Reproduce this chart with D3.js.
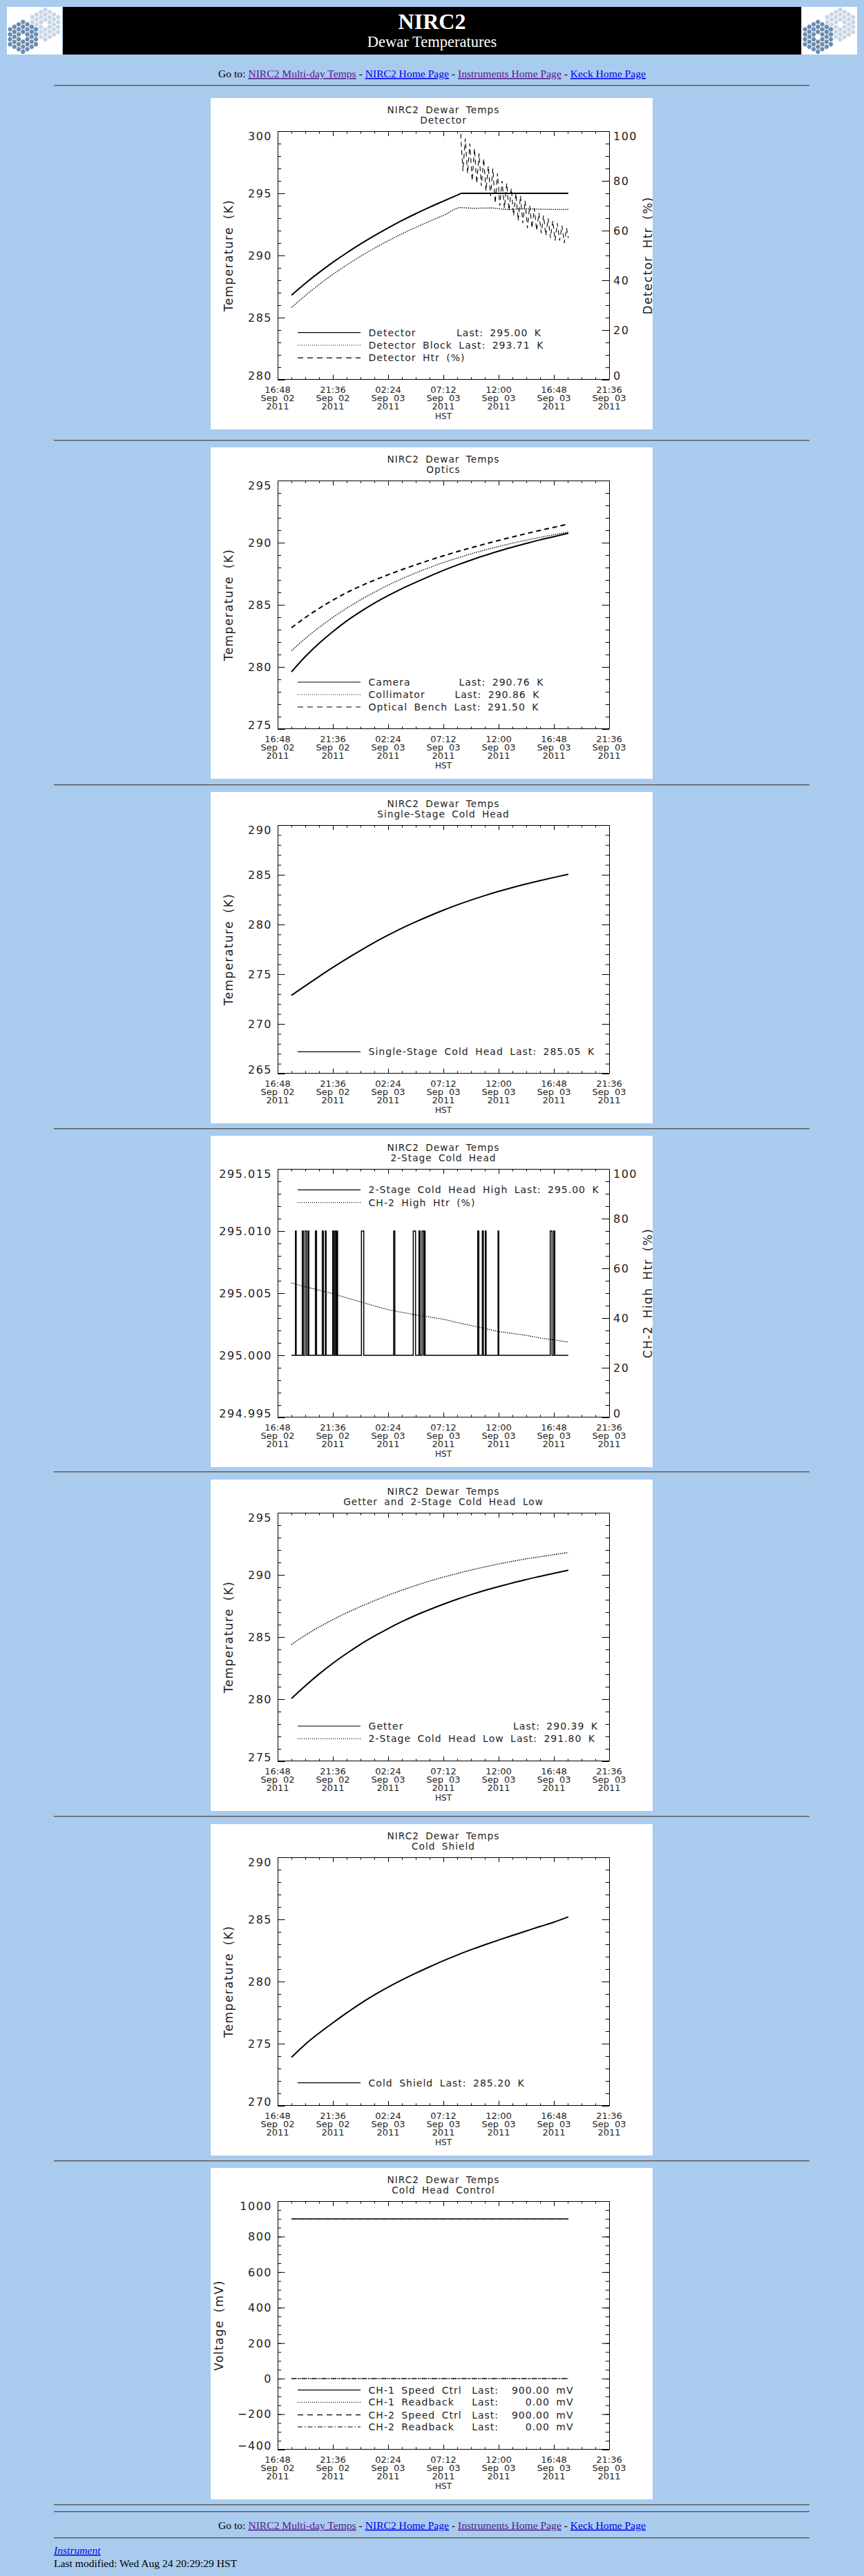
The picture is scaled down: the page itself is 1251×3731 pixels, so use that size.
<!DOCTYPE html>
<html>
<head>
<meta charset="utf-8">
<title>NIRC2 Dewar Temperatures</title>
<script src="https://cdn.jsdelivr.net/npm/d3@7"></script>
<style>
  html, body { margin: 0; padding: 0; background: #a9cbee; }
  svg { display: block; }
</style>
</head>
<body>
<div id="page"></div>
<script>
// ---- data (time = hours after 16:48 Sep 02 2011 HST) ----
var xTickHours = [0, 4.8, 9.6, 14.4, 19.2, 24.0, 28.8];
var xTickTime = ["16:48", "21:36", "02:24", "07:12", "12:00", "16:48", "21:36"];
var xTickDate = ["Sep 02", "Sep 02", "Sep 03", "Sep 03", "Sep 03", "Sep 03", "Sep 03"];
var xTickYear = ["2011", "2011", "2011", "2011", "2011", "2011", "2011"];

var hours = [1.2, 2.4, 3.6, 4.8, 6.0, 7.2, 8.4, 9.6, 10.8, 12.0, 13.2, 14.4, 15.6, 16.8, 18.0, 19.2, 20.4, 21.6, 22.8, 24.0, 25.25];

// Detector
var detHours = [1.2, 2.4, 3.6, 4.8, 6.0, 7.2, 8.4, 9.6, 10.8, 12.0, 13.2, 14.4, 15.6, 16.0, 20.0, 25.25];
var detK = [286.8, 287.75, 288.63, 289.45, 290.21, 290.92, 291.59, 292.22, 292.81, 293.36, 293.88, 294.37, 294.85, 295.0, 295.0, 295.0];
var blockHours = [1.2, 2.4, 3.6, 4.8, 6.0, 7.2, 8.4, 9.6, 10.8, 12.0, 13.2, 14.4, 15.9, 17.0, 18.5, 20.0, 21.5, 23.0, 24.5, 25.25];
var blockK = [285.8, 286.77, 287.66, 288.48, 289.23, 289.93, 290.58, 291.18, 291.74, 292.26, 292.75, 293.22, 293.85, 293.8, 293.82, 293.7, 293.75, 293.72, 293.7, 293.71];
var htrHours = [15.9, 16.1, 16.3, 16.5, 16.7, 16.9, 17.1, 17.3, 17.5, 17.7, 17.9, 18.1, 18.3, 18.5, 18.7, 18.9,
  19.1, 19.3, 19.5, 19.7, 19.9, 20.1, 20.3, 20.5, 20.7, 20.9, 21.1, 21.3, 21.5, 21.7, 21.9, 22.1,
  22.3, 22.5, 22.7, 22.9, 23.1, 23.3, 23.5, 23.7, 23.9, 24.1, 24.3, 24.5, 24.7, 24.9, 25.1, 25.25];
var htrPct = [99, 84, 97, 83, 95, 80, 93, 79, 91, 78, 89, 76, 86, 74, 85, 71,
  83, 70, 80, 69, 79, 68, 77, 66, 75, 64, 74, 63, 72, 61, 70, 61,
  69, 60, 67, 59, 66, 58, 65, 57, 64, 56, 63, 56, 62, 55, 61, 57];

// Optics
var cameraK = [279.6, 280.83, 281.9, 282.85, 283.7, 284.45, 285.13, 285.74, 286.3, 286.81, 287.3, 287.77, 288.2, 288.6, 288.97, 289.32, 289.64, 289.94, 290.23, 290.49, 290.76];
var collimatorK = [281.3, 282.29, 283.18, 283.99, 284.73, 285.4, 286.01, 286.58, 287.1, 287.57, 288.0, 288.4, 288.76, 289.1, 289.41, 289.69, 289.96, 290.2, 290.43, 290.64, 290.86];
var benchK = [283.15, 283.97, 284.71, 285.38, 285.98, 286.51, 286.98, 287.42, 287.83, 288.22, 288.59, 288.94, 289.28, 289.59, 289.89, 290.18, 290.46, 290.73, 290.99, 291.24, 291.5];

// Single-stage cold head
var singleStageK = [272.87, 273.83, 274.77, 275.68, 276.55, 277.39, 278.19, 278.93, 279.63, 280.27, 280.87, 281.44, 281.97, 282.46, 282.91, 283.33, 283.72, 284.08, 284.41, 284.73, 285.05];

// 2-stage cold head high: sits at 295.000 K, jumps to 295.010 K in these intervals
var ch2Range = [1.2, 25.25];
var ch2BaseK = 295.0;
var ch2SpikeK = 295.01;
var spikeStart = [1.55, 2.14, 2.38, 2.65, 3.28, 3.88, 4.15, 4.78, 4.98, 5.15, 7.28, 10.08, 11.78, 12.28, 12.54, 12.75, 17.38, 17.78, 18.05, 19.15, 23.68, 23.98];
var spikeEnd = [1.61, 2.24, 2.52, 2.71, 3.38, 3.98, 4.21, 4.88, 5.08, 5.21, 7.48, 10.18, 11.98, 12.38, 12.68, 12.81, 17.48, 17.88, 18.11, 19.21, 23.84, 24.08];
var ch2HtrPct = [54.1, 52.6, 51.2, 49.8, 48.1, 46.5, 44.9, 43.4, 42.3, 41.3, 40.4, 39.5, 38.2, 37.0, 35.8, 34.6, 33.8, 33.0, 32.0, 31.2, 30.3];

// Getter and 2-stage cold head low
var getterK = [280.05, 281.07, 282.02, 282.89, 283.68, 284.41, 285.07, 285.68, 286.24, 286.75, 287.21, 287.64, 288.04, 288.41, 288.75, 289.06, 289.35, 289.63, 289.88, 290.13, 290.38];
var stage2LowK = [284.4, 285.14, 285.8, 286.4, 286.95, 287.45, 287.92, 288.36, 288.77, 289.15, 289.5, 289.82, 290.11, 290.39, 290.64, 290.88, 291.09, 291.29, 291.46, 291.63, 291.8];

// Cold shield
var coldShieldK = [273.9, 274.95, 275.85, 276.68, 277.48, 278.23, 278.92, 279.55, 280.13, 280.67, 281.18, 281.67, 282.13, 282.56, 282.96, 283.34, 283.71, 284.07, 284.43, 284.78, 285.2];

// Cold head control
var ctrlHours = [1.2, 25.25];
var ch1SpeedMv = [900, 900];
var ch1ReadMv = [0, 0];
var ch2SpeedMv = [900, 900];
var ch2ReadMv = [0, 0];

// legend texts
var legDetector = ["Detector", "Detector Block Last: 293.71 K", "Detector Htr (%)"];
var legDetectorLast = ["Last: 295.00 K", "", ""];
var legOptics = ["Camera", "Collimator", "Optical Bench Last: 291.50 K"];
var legOpticsLast = ["Last: 290.76 K", "Last: 290.86 K", ""];
var legSingle = ["Single-Stage Cold Head Last: 285.05 K"];
var legTwoStage = ["2-Stage Cold Head High Last: 295.00 K", "CH-2 High Htr (%)"];
var legGetter = ["Getter", "2-Stage Cold Head Low Last: 291.80 K"];
var legGetterLast = ["Last: 290.39 K", ""];
var legShield = ["Cold Shield Last: 285.20 K"];
var legCtrl = ["CH-1 Speed Ctrl", "CH-1 Readback", "CH-2 Speed Ctrl", "CH-2 Readback"];
var legCtrlValue = ["900.00 mV", "0.00 mV", "900.00 mV", "0.00 mV"];

function pairs(xs, ys) {
  return xs.map(function (t, i) { return [t, ys[i]]; });
}

// step trace for the 2-stage high sensor
var ch2HighPts = [[ch2Range[0], ch2BaseK]];
for (var i = 0; i < spikeStart.length; i++) {
  ch2HighPts.push([spikeStart[i], ch2BaseK], [spikeStart[i], ch2SpikeK], [spikeEnd[i], ch2SpikeK], [spikeEnd[i], ch2BaseK]);
}
ch2HighPts.push([ch2Range[1], ch2BaseK]);

// ---- page layout ----
var W = 1251, H = 3731;
var panelTops = [142, 648, 1147, 1645, 2143, 2642, 3140];
var hrYs = [124, 638, 1137, 1635, 2132, 2631, 3130, 3628, 3638, 3676];
var dash = { solid: null, dotted: "1.5,1.5", dashed: "7,5", dashdot: "7,3,1.5,3" };
var legDash = { solid: null, dotted: "1,2", dashed: "8,6", dashdot: "7,3,1.5,3" };
var HFONT = "'DejaVu Sans', Verdana, sans-serif";
var SERIF = "'Liberation Serif', 'Times New Roman', serif";

var svg = d3.select("#page").append("svg").attr("width", W).attr("height", H);
svg.append("rect").attr("width", W).attr("height", H).attr("fill", "#a9cbee");

function hershey(sel, size, spacing) {
  sel.style("font-family", HFONT).style("font-size", size + "px")
    .style("letter-spacing", (spacing == null ? 1 : spacing) + "px")
    .style("word-spacing", "4px").attr("fill", "#1e1e1e");
}

// ---- banner ----
function logo(x0) {
  var g = svg.append("svg").attr("x", x0).attr("y", 10).attr("width", 80).attr("height", 69);
  g.append("rect").attr("width", 80).attr("height", 69).attr("fill", "#fff");
  var clusters = [{ cx: 55.5, cy: 25.5, fill: "#c8d6e6" }, { cx: 23.3, cy: 43.3, fill: "#6a8cb1" }];
  var hex = d3.range(6).map(function (k) {
    var a = Math.PI / 3 * k;
    return [3.5 * Math.cos(a), 3.5 * Math.sin(a)];
  });
  clusters.forEach(function (c) {
    var cells = [];
    for (var q = -3; q <= 3; q++) {
      for (var r = -3; r <= 3; r++) {
        var s = -q - r;
        var ring = Math.max(Math.abs(q), Math.abs(r), Math.abs(s));
        if (ring === 0 || ring > 3) continue;
        cells.push([c.cx + 6.235 * q, c.cy + 7.2 * (r + q / 2)]);
      }
    }
    g.selectAll(null).data(cells).join("path")
      .attr("d", function (d) { return "M" + hex.map(function (p) { return [d[0] + p[0], d[1] + p[1]]; }).join("L") + "Z"; })
      .attr("fill", c.fill);
  });
}
logo(10);
logo(1161);
svg.append("rect").attr("x", 91).attr("y", 10).attr("width", 1069).attr("height", 69).attr("fill", "#000");
svg.append("text").attr("x", 625.5).attr("y", 41.7).attr("text-anchor", "middle")
  .style("font-family", SERIF).style("font-size", "32px").style("font-weight", "bold")
  .attr("fill", "#fff").text("NIRC2");
svg.append("text").attr("x", 625.5).attr("y", 68.3).attr("text-anchor", "middle")
  .style("font-family", SERIF).style("font-size", "22.5px")
  .attr("fill", "#fff").text("Dewar Temperatures");

// ---- navigation lines and rules ----
var navParts = [
  { t: "Go to: ", c: "#000" },
  { t: "NIRC2 Multi-day Temps", c: "#551a8b", link: true },
  { t: " - ", c: "#000" },
  { t: "NIRC2 Home Page", c: "#0000ee", link: true },
  { t: " - ", c: "#000" },
  { t: "Instruments Home Page", c: "#551a8b", link: true },
  { t: " - ", c: "#000" },
  { t: "Keck Home Page", c: "#0000ee", link: true }
];
function navLine(yb) {
  var t = svg.append("text").attr("x", 625.5).attr("y", yb).attr("text-anchor", "middle")
    .style("font-family", SERIF).style("font-size", "15.6px").attr("xml:space", "preserve");
  navParts.forEach(function (p) {
    t.append("tspan").attr("fill", p.c)
      .style("text-decoration", p.link ? "underline" : "none").text(p.t);
  });
}
navLine(112);
navLine(3662.7);

hrYs.forEach(function (yy) {
  svg.append("rect").attr("x", 78).attr("y", yy - 1).attr("width", 1094).attr("height", 1).attr("fill", "#555");
  svg.append("rect").attr("x", 78).attr("y", yy).attr("width", 1094).attr("height", 1).attr("fill", "#8d9bab");
});

svg.append("text").attr("x", 78).attr("y", 3699).style("font-family", SERIF).style("font-size", "15.6px")
  .style("font-style", "italic").style("text-decoration", "underline").attr("fill", "#0000ee").text("Instrument");
svg.append("text").attr("x", 78).attr("y", 3718).style("font-family", SERIF).style("font-size", "15.6px")
  .attr("fill", "#000").text("Last modified: Wed Aug 24 20:29:29 HST");

// ---- plot panels ----
var PL = 97, PR = 577, PT = 48, PB = 408;
var x = d3.scaleLinear().domain([0, 28.8]).range([PL, PR]);

function tickRange(dom, step) {
  var n = Math.round((dom[1] - dom[0]) / step);
  return d3.range(n + 1).map(function (k) { return dom[0] + k * step; });
}

function addTicks(p, axis, tr) {
  p.append("g").attr("transform", tr).attr("color", "#000")
    .call(axis.tickFormat(""))
    .call(function (g) { g.select(".domain").remove(); g.selectAll("text").remove(); });
}

function drawPanel(cfg, top) {
  var p = svg.append("svg").attr("x", 305).attr("y", top).attr("width", 640).attr("height", 480);
  p.append("rect").attr("width", 640).attr("height", 480).attr("fill", "#fff");

  var y = d3.scaleLinear().domain(cfg.yDomain).range([PB, PT]);
  var y2 = cfg.y2Domain ? d3.scaleLinear().domain(cfg.y2Domain).range([PB, PT]) : null;

  // titles
  p.append("text").call(hershey, 13.7).attr("x", 337).attr("y", 22).attr("text-anchor", "middle").text("NIRC2 Dewar Temps");
  p.append("text").call(hershey, 13.7).attr("x", 337).attr("y", 37).attr("text-anchor", "middle").text(cfg.title);

  // tick marks on all four sides
  var xMinor = tickRange([0, 28.8], 1.2);
  addTicks(p, d3.axisBottom(x).tickValues(xMinor).tickSize(-3.6), "translate(0," + PB + ")");
  addTicks(p, d3.axisBottom(x).tickValues(xTickHours).tickSize(-7.2), "translate(0," + PB + ")");
  addTicks(p, d3.axisTop(x).tickValues(xMinor).tickSize(-3.6), "translate(0," + PT + ")");
  addTicks(p, d3.axisTop(x).tickValues(xTickHours).tickSize(-7.2), "translate(0," + PT + ")");

  var yMaj = tickRange(cfg.yDomain, cfg.yMajor), yMin = tickRange(cfg.yDomain, cfg.yMinor);
  addTicks(p, d3.axisLeft(y).tickValues(yMin).tickSize(-5.2), "translate(" + PL + ",0)");
  addTicks(p, d3.axisLeft(y).tickValues(yMaj).tickSize(-10.5), "translate(" + PL + ",0)");
  var ry = y2 || y;
  var rMaj = y2 ? tickRange(cfg.y2Domain, cfg.y2Major) : yMaj;
  var rMin = y2 ? tickRange(cfg.y2Domain, cfg.y2Minor) : yMin;
  addTicks(p, d3.axisRight(ry).tickValues(rMin).tickSize(-5.2), "translate(" + PR + ",0)");
  addTicks(p, d3.axisRight(ry).tickValues(rMaj).tickSize(-10.5), "translate(" + PR + ",0)");

  p.append("rect").attr("x", PL + 0.5).attr("y", PT + 0.5).attr("width", PR - PL).attr("height", PB - PT - 1)
    .attr("fill", "none").attr("stroke", "#000").attr("stroke-width", 1);

  function clampY(v) { return Math.max(PT + 6.8, Math.min(PB - 6, v)); }

  // left tick labels
  var fmt = d3.format(cfg.yFmt);
  var lt = p.append("g").selectAll("text").data(yMaj).join("text")
    .call(hershey, 16, 1.5)
    .attr("x", 89).attr("y", function (d) { return clampY(y(d)) + 5.8; })
    .attr("text-anchor", "end").text(function (d) { return fmt(d); });
  var lw = d3.max(lt.nodes(), function (n) { return n.getComputedTextLength(); });
  p.append("text").call(hershey, 17, 1.4)
    .attr("transform", "translate(" + (89 - lw - 21.5) + "," + ((PT + PB) / 2) + ") rotate(-90)")
    .attr("text-anchor", "middle").text(cfg.yTitle);

  if (y2) {
    var rt = p.append("g").selectAll("text").data(rMaj).join("text")
      .call(hershey, 16, 1.5)
      .attr("x", 583).attr("y", function (d) { return clampY(y2(d)) + 5.8; })
      .text(function (d) { return d3.format("d")(d); });
    var rw = d3.max(rt.nodes(), function (n) { return n.getComputedTextLength(); });
    p.append("text").call(hershey, 17, 1.4)
      .attr("transform", "translate(" + (583 + rw + 20.5) + "," + ((PT + PB) / 2) + ") rotate(-90)")
      .attr("text-anchor", "middle").text(cfg.y2Title);
  }

  // x tick labels: time / date / year, then HST
  var xl = p.append("g").selectAll("g").data(xTickHours).join("g");
  xl.append("text").call(hershey, 13, 0).attr("x", function (d) { return x(d); }).attr("y", 427)
    .attr("text-anchor", "middle").text(function (d, i) { return xTickTime[i]; });
  xl.append("text").call(hershey, 13, 0).attr("x", function (d) { return x(d); }).attr("y", 438.5)
    .attr("text-anchor", "middle").text(function (d, i) { return xTickDate[i]; });
  xl.append("text").call(hershey, 13, 0).attr("x", function (d) { return x(d); }).attr("y", 450.5)
    .attr("text-anchor", "middle").text(function (d, i) { return xTickYear[i]; });
  p.append("text").call(hershey, 12, 0).attr("x", 337).attr("y", 465.3).attr("text-anchor", "middle").text("HST");

  // data
  cfg.series.forEach(function (s) {
    var sy = s.right ? y2 : y;
    var line = d3.line().x(function (d) { return x(d[0]); }).y(function (d) { return sy(d[1]); })
      .curve(s.smooth ? d3.curveMonotoneX : d3.curveLinear);
    p.append("path").datum(s.pts).attr("d", line).attr("fill", "none").attr("stroke", "#000")
      .attr("stroke-width", s.width).attr("stroke-dasharray", dash[s.style]);
  });

  // legend
  cfg.legend.forEach(function (row, k) {
    var yb = cfg.legendY[k];
    p.append("line").attr("x1", 126).attr("x2", 217).attr("y1", yb - 5).attr("y2", yb - 5)
      .attr("stroke", "#000").attr("stroke-width", 1.2).attr("stroke-dasharray", legDash[row.style]);
    p.append("text").call(hershey, 14).attr("x", 228.6).attr("y", yb).text(row.label);
    (row.cols || []).forEach(function (c) {
      if (!c.text) return;
      p.append("text").call(hershey, 14).attr("x", c.x).attr("y", yb)
        .attr("text-anchor", c.anchor || "start").text(c.text);
    });
  });
}

var panels = [
  {
    title: "Detector", yDomain: [280, 300], yMajor: 5, yMinor: 1, yFmt: "d", yTitle: "Temperature (K)",
    y2Domain: [0, 100], y2Major: 20, y2Minor: 5, y2Title: "Detector Htr (%)",
    series: [
      { pts: pairs(detHours, detK), style: "solid", width: 2, smooth: true },
      { pts: pairs(blockHours, blockK), style: "dotted", width: 1.3, smooth: true },
      { pts: pairs(htrHours, htrPct), style: "dashed", width: 1.1, right: true }
    ],
    legendY: [344.7, 363, 381.3],
    legend: [
      { label: legDetector[0], style: "solid", cols: [{ text: legDetectorLast[0], x: 356 }] },
      { label: legDetector[1], style: "dotted" },
      { label: legDetector[2], style: "dashed" }
    ]
  },
  {
    title: "Optics", yDomain: [275, 295], yMajor: 5, yMinor: 1, yFmt: "d", yTitle: "Temperature (K)",
    series: [
      { pts: pairs(hours, cameraK), style: "solid", width: 2, smooth: true },
      { pts: pairs(hours, collimatorK), style: "dotted", width: 1.3, smooth: true },
      { pts: pairs(hours, benchK), style: "dashed", width: 2, smooth: true }
    ],
    legendY: [345, 363, 381],
    legend: [
      { label: legOptics[0], style: "solid", cols: [{ text: legOpticsLast[0], x: 359.4 }] },
      { label: legOptics[1], style: "dotted", cols: [{ text: legOpticsLast[1], x: 353.4 }] },
      { label: legOptics[2], style: "dashed" }
    ]
  },
  {
    title: "Single-Stage Cold Head", yDomain: [265, 290], yMajor: 5, yMinor: 1, yFmt: "d", yTitle: "Temperature (K)",
    series: [{ pts: pairs(hours, singleStageK), style: "solid", width: 2, smooth: true }],
    legendY: [381.3],
    legend: [{ label: legSingle[0], style: "solid" }]
  },
  {
    title: "2-Stage Cold Head", yDomain: [294.995, 295.015], yMajor: 0.005, yMinor: 0.001, yFmt: ".3f", yTitle: "Temperature (K)",
    y2Domain: [0, 100], y2Major: 20, y2Minor: 5, y2Title: "CH-2 High Htr (%)",
    series: [
      { pts: ch2HighPts, style: "solid", width: 1.5 },
      { pts: pairs(hours, ch2HtrPct), style: "dotted", width: 1.2, smooth: true, right: true }
    ],
    legendY: [83.3, 101.7],
    legend: [
      { label: legTwoStage[0], style: "solid" },
      { label: legTwoStage[1], style: "dotted" }
    ]
  },
  {
    title: "Getter and 2-Stage Cold Head Low", yDomain: [275, 295], yMajor: 5, yMinor: 1, yFmt: "d", yTitle: "Temperature (K)",
    series: [
      { pts: pairs(hours, getterK), style: "solid", width: 2, smooth: true },
      { pts: pairs(hours, stage2LowK), style: "dotted", width: 1.4, smooth: true }
    ],
    legendY: [362, 380.3],
    legend: [
      { label: legGetter[0], style: "solid", cols: [{ text: legGetterLast[0], x: 438 }] },
      { label: legGetter[1], style: "dotted" }
    ]
  },
  {
    title: "Cold Shield", yDomain: [270, 290], yMajor: 5, yMinor: 1, yFmt: "d", yTitle: "Temperature (K)",
    series: [{ pts: pairs(hours, coldShieldK), style: "solid", width: 2, smooth: true }],
    legendY: [379.7],
    legend: [{ label: legShield[0], style: "solid" }]
  },
  {
    title: "Cold Head Control", yDomain: [-400, 1000], yMajor: 200, yMinor: 50, yFmt: "d", yTitle: "Voltage (mV)",
    series: [
      { pts: pairs(ctrlHours, ch1SpeedMv), style: "solid", width: 1.5 },
      { pts: pairs(ctrlHours, ch1ReadMv), style: "dotted", width: 1.2 },
      { pts: pairs(ctrlHours, ch2SpeedMv), style: "dashed", width: 1.2 },
      { pts: pairs(ctrlHours, ch2ReadMv), style: "dashdot", width: 1.2 }
    ],
    legendY: [326.7, 344.3, 362.7, 380],
    legend: legCtrl.map(function (lab, k) {
      return {
        label: lab, style: ["solid", "dotted", "dashed", "dashdot"][k],
        cols: [{ text: "Last:", x: 378.2 }, { text: legCtrlValue[k], x: 525.6, anchor: "end" }]
      };
    })
  }
];

panels.forEach(function (cfg, k) { drawPanel(cfg, panelTops[k]); });
</script>
</body>
</html>
